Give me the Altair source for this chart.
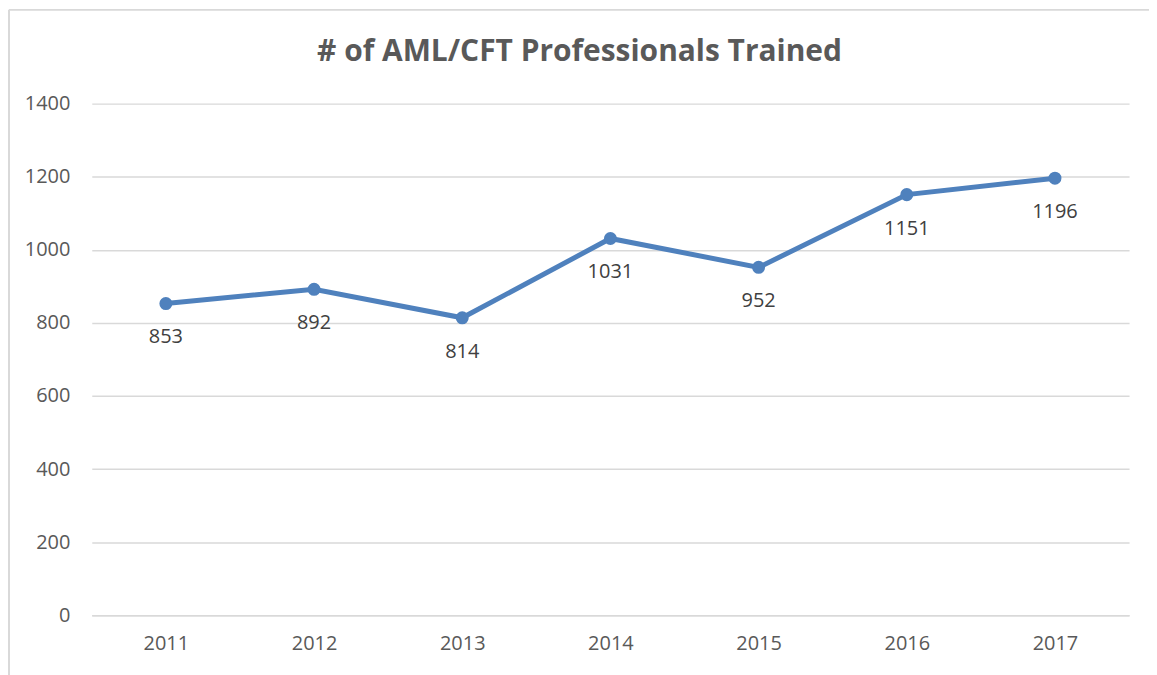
import altair as alt
import pandas as pd

years = ["2011", "2012", "2013", "2014", "2015", "2016", "2017"]
trained = [853, 892, 814, 1031, 952, 1151, 1196]
y_ticks = [0, 200, 400, 600, 800, 1000, 1200, 1400]
title_text = "# of AML/CFT Professionals Trained"

df = pd.DataFrame({"year": years, "value": trained})

W, H = 1040, 513
PL, PT = 84, 95
FONT = "Open Sans"

base = alt.Chart(df).encode(
    x=alt.X("year:N", sort=years, title=None,
            scale=alt.Scale(type="point", padding=0.5),
            axis=alt.Axis(labelAngle=0, labelFontSize=20, labelColor="#595959",
                          labelFont=FONT, ticks=False, domain=True,
                          domainColor="#d9d9d9", domainWidth=1.5, labelPadding=18)),
    y=alt.Y("value:Q", title=None,
            scale=alt.Scale(domain=[0, 1400], nice=False),
            axis=alt.Axis(values=y_ticks, format="d", labelFontSize=20, labelColor="#595959",
                          labelFont=FONT, ticks=False, domain=False,
                          gridColor="#d9d9d9", gridWidth=1.5, labelPadding=22)),
)

one = pd.DataFrame({"a": [0]})
frame_left = alt.Chart(one).mark_rule(stroke="#d9d9d9", strokeWidth=2).encode(
    x=alt.value(-83), y=alt.value(-94), y2=alt.value(600))
frame_top = alt.Chart(one).mark_rule(stroke="#d9d9d9", strokeWidth=2).encode(
    x=alt.value(-83), x2=alt.value(1100), y=alt.value(-94))

title = alt.Chart(pd.DataFrame({"t": [title_text]})).mark_text(
    fontSize=30, font=FONT, fontWeight="bold", color="#595959",
    align="center", baseline="alphabetic"
).encode(text="t:N", x=alt.value(489), y=alt.value(-43))

line = base.mark_line(color="#4F81BD", strokeWidth=5)
pts = base.mark_circle(color="#4F81BD", size=170, opacity=1)
labels = base.mark_text(dy=34, fontSize=20, color="#404040", font=FONT).encode(
    text=alt.Text("value:Q"))

chart = alt.layer(frame_left, frame_top, title, line, pts, labels).properties(
    width=W, height=H,
    autosize=alt.AutoSizeParams(type="none"),
    padding={"left": PL, "top": PT, "right": 20, "bottom": 60},
).configure_view(stroke=None)

chart.save("out.html", embed_options={"renderer": "svg", "actions": False})
